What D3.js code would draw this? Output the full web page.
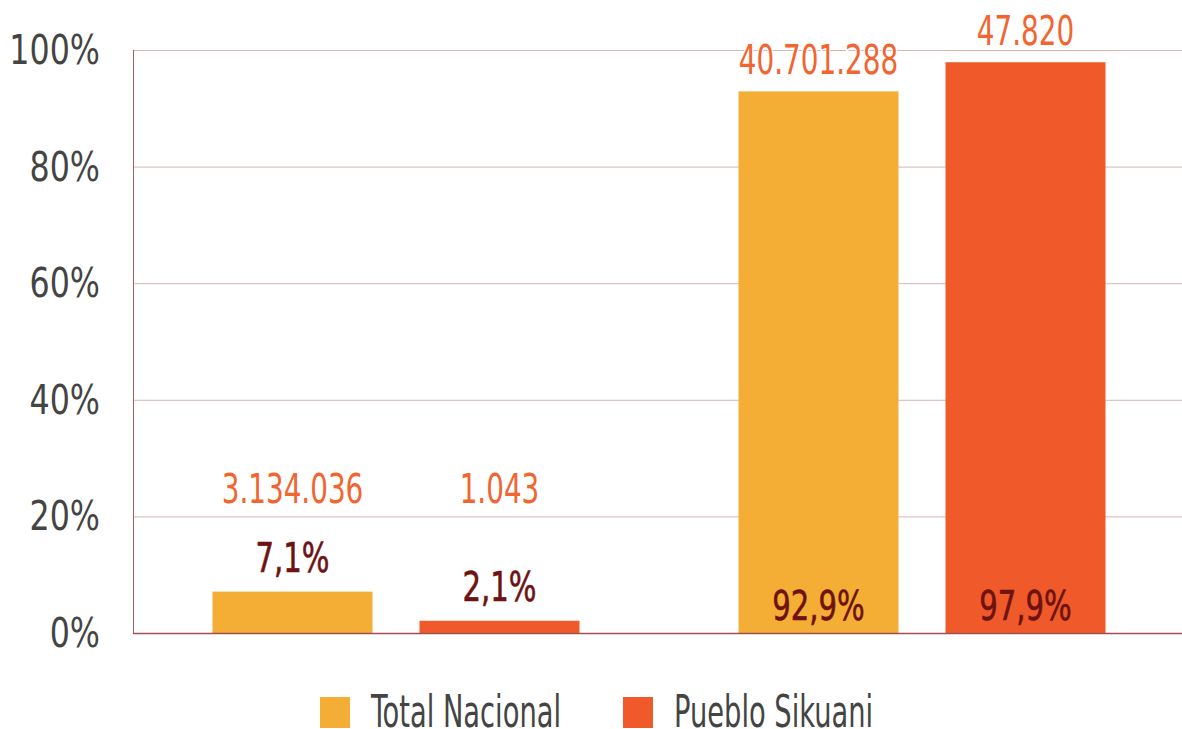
<!DOCTYPE html>
<html>
<head>
<meta charset="utf-8">
<script src="https://cdn.jsdelivr.net/npm/d3@7"></script>
<style>
  body { margin: 0; background: #ffffff; }
  svg text { font-family: "DejaVu Sans Condensed", "DejaVu Sans", sans-serif; font-stretch: condensed; }
</style>
</head>
<body>
<div id="chart"></div>
<script>
// Data
const categories = ["Fuera", "Dentro"];
const seriesNames = ["Total Nacional", "Pueblo Sikuani"];
const shareTotal = [7.1, 92.9];
const shareSikuani = [2.1, 97.9];
const countTotal = ["3.134.036", "40.701.288"];
const countSikuani = ["1.043", "47.820"];
const yTicks = [0, 20, 40, 60, 80, 100];

const width = 1182;
const height = 729;
const margin = { top: 50, right: 0, bottom: 96, left: 133 };
const colors = ["#F5AE35", "#F05A2A"];

const svg = d3.select("#chart")
    .append("svg")
    .attr("width", width)
    .attr("height", height);

// draws a horizontally squeezed text at x, y
// (the reference font is narrower than anything installed)
function AddText(parent, x, y, anchor, str, size, fill, squeeze) {
    const t = parent.append("g")
        .attr("transform", `translate(${x}, ${y})`)
        .append("text")
        .attr("transform", `scale(${squeeze}, 1)`)
        .attr("text-anchor", anchor)
        .attr("fill", fill)
        .style("font-size", size + "px")
        .text(str);
    return t;
}

const x0 = d3.scaleBand()
    .domain(categories)
    .range([margin.left, 1185]);

const x1 = d3.scaleBand()
    .domain(seriesNames)
    .range([0, 367])
    .paddingInner(0.227);

const y = d3.scaleLinear()
    .domain([0, 100])
    .range([height - margin.bottom, margin.top]);

// gridlines
svg.append("g")
    .selectAll("line")
    .data(yTicks.filter(d => d > 0))
    .join("line")
    .attr("x1", margin.left)
    .attr("x2", width)
    .attr("y1", d => y(d) + 0.5)
    .attr("y2", d => y(d) + 0.5)
    .attr("stroke", "#D9B6B6")
    .attr("stroke-width", 1);

// tick labels
const tickG = svg.append("g");
yTicks.forEach(d => {
    AddText(tickG, 100, y(d) + 14, "end", d + "%", 41, "#444444", 0.86);
});

// rows per bar
const rows = [];
categories.forEach((c, i) => {
    rows.push({ cat: c, series: seriesNames[0], v: shareTotal[i], count: countTotal[i], color: colors[0] });
    rows.push({ cat: c, series: seriesNames[1], v: shareSikuani[i], count: countSikuani[i], color: colors[1] });
});

const groupX = c => x0(c) + x0.bandwidth() / 2 - 367 / 2;
const barMid = d => groupX(d.cat) + x1(d.series) + x1.bandwidth() / 2;

svg.append("g")
    .selectAll("rect")
    .data(rows)
    .join("rect")
    .attr("x", d => groupX(d.cat) + x1(d.series))
    .attr("y", d => y(d.v))
    .attr("width", x1.bandwidth())
    .attr("height", d => y(0) - y(d.v))
    .attr("fill", d => d.color);

// axis lines
svg.append("line")
    .attr("x1", margin.left + 0.5).attr("x2", margin.left + 0.5)
    .attr("y1", margin.top).attr("y2", y(0))
    .attr("stroke", "#A06060").attr("stroke-width", 1);
svg.append("line")
    .attr("x1", margin.left).attr("x2", width)
    .attr("y1", y(0) + 0.5).attr("y2", y(0) + 0.5)
    .attr("stroke", "#A05050").attr("stroke-width", 1.5);

// percent labels
const pctG = svg.append("g");
rows.forEach(d => {
    const ly = d.v > 50 ? y(0) - 13 : y(d.v) - 20;
    AddText(pctG, barMid(d), ly, "middle", d3.format(".1f")(d.v).replace(".", ",") + "%", 41, "#6E1212", 0.79)
        .attr("stroke", "#6E1212")
        .attr("stroke-width", 0.6);
});

// count labels
const countG = svg.append("g");
rows.forEach(d => {
    const ly = d.v > 50 ? y(d.v) - 17 : y(22.3);
    AddText(countG, barMid(d), ly, "middle", d.count, 41, "#F26430", 0.755)
        .attr("stroke", "#ffffff")
        .attr("stroke-width", 3)
        .attr("paint-order", "stroke");
});

// legend
const legendX = [320, 623];
const legendG = svg.append("g");
seriesNames.forEach((name, i) => {
    legendG.append("rect")
        .attr("x", legendX[i])
        .attr("y", 697)
        .attr("width", 30)
        .attr("height", 31)
        .attr("fill", colors[i]);
    AddText(legendG, legendX[i] + 51, 727, "start", name, 44, "#444444", 0.69);
});
</script>
</body>
</html>
